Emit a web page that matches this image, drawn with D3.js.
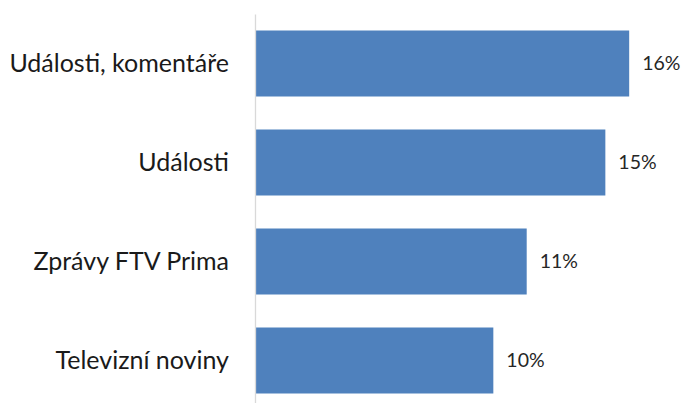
<!DOCTYPE html>
<html>
<head>
<meta charset="utf-8">
<script src="https://cdn.jsdelivr.net/npm/d3@7"></script>
<style>
  body { margin: 0; background: #fff; }
  svg { display: block; }
</style>
</head>
<body>
<svg width="683" height="403"></svg>
<script>
// Chart data
var categories = ["Události, komentáře", "Události", "Zprávy FTV Prima", "Televizní noviny"];
var shares = [15.7, 14.7, 11.4, 10.0]; // percent

var svg = d3.select("svg");

// x scale (percent -> px), axis sits at x=255
var xScale = d3.scaleLinear()
    .domain([0, 18])
    .range([255, 684]);

// y scale for the bars
var yScale = d3.scaleBand()
    .domain(categories)
    .range([14, 410])
    .paddingInner(1 / 3)
    .paddingOuter(1 / 6);

// bars
svg.append("g")
    .selectAll("rect")
    .data(categories)
    .enter()
    .append("rect")
    .attr("x", xScale(0))
    .attr("y", function (d) { return yScale(d); })
    .attr("width", function (d, i) { return xScale(shares[i]) - xScale(0); })
    .attr("height", yScale.bandwidth())
    .style("fill", "#4f81bd");

// vertical axis line with category labels
var yAxis = d3.axisLeft(yScale).tickSize(0).tickPadding(26);
var axisG = svg.append("g")
    .attr("transform", "translate(" + xScale(0) + ",0)")
    .call(yAxis);
axisG.select(".domain")
    .attr("stroke", "#d9d9d9")
    .attr("stroke-width", 1.3);
axisG.selectAll("text")
    .attr("font-family", "Lato, 'Open Sans', sans-serif")
    .attr("font-size", "25px")
    .attr("fill", "#1a1a1a");

// value labels
var fmt = function (v) { return Math.round(v) + "%"; };
svg.append("g")
    .selectAll("text")
    .data(categories)
    .enter()
    .append("text")
    .attr("x", function (d, i) { return xScale(shares[i]) + 13; })
    .attr("y", function (d) { return yScale(d) + yScale.bandwidth() / 2; })
    .attr("dy", "0.35em")
    .attr("font-family", "Lato, 'Open Sans', sans-serif")
    .attr("font-size", "19.5px")
    .attr("fill", "#262626")
    .text(function (d, i) { return fmt(shares[i]); });
</script>
</body>
</html>
